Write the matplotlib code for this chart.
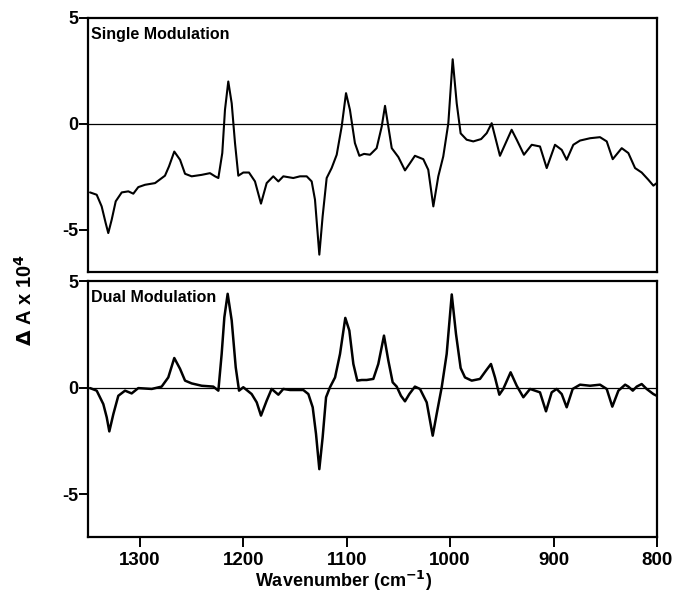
import matplotlib
matplotlib.use("Agg")
import matplotlib.pyplot as plt

plt.rcParams['font.family'] = ['Liberation Sans', 'DejaVu Sans']
plt.rcParams['font.weight'] = 'bold'
plt.rcParams['axes.unicode_minus'] = False

# Single modulation spectrum (wavenumber cm-1, dA x 1e4)
single_x = [1348, 1341.6, 1336.8, 1332.9, 1330.4, 1327.1, 1323.2, 1317.4, 1311, 1306.2, 1301.4,
            1294.9, 1285.2, 1275.6, 1271.7, 1266.6, 1261, 1256.2, 1249.8, 1240.1, 1232.1, 1227.2,
            1224, 1220.2, 1217.6, 1214.4, 1211.1, 1207.9, 1204.7, 1199.9, 1194.4, 1188.6, 1182.8,
            1177.3, 1170.9, 1166, 1161.2, 1151.6, 1145.1, 1138.6, 1133.8, 1130.6, 1126.4, 1123.2,
            1119.3, 1114.5, 1109.6, 1104.8, 1100.6, 1096.8, 1092, 1087.7, 1083.2, 1077.4, 1071,
            1066.1, 1062.9, 1059.7, 1056.4, 1050, 1043.6, 1038.8, 1034, 1025.9, 1021.1, 1016.2,
            1011.4, 1006.6, 1001.7, 997.5, 993.6, 989.8, 984, 977.6, 970, 964.6, 959.8, 951.8,
            940.5, 935.6, 928.6, 921.1, 913.1, 906.6, 898.6, 892.1, 887.3, 880.9, 874.4, 864.7,
            855.1, 848.6, 842.8, 834.1, 827.7, 821.2, 814.8, 808.4, 803.5, 800.3]
single_y = [-3.24, -3.35, -3.9, -4.69, -5.16, -4.53, -3.66, -3.24, -3.19, -3.3, -2.99,
            -2.88, -2.8, -2.45, -2.01, -1.31, -1.7, -2.36, -2.48, -2.41, -2.33, -2.48,
            -2.56, -1.38, 0.66, 2.0, 0.97, -0.91, -2.45, -2.3, -2.3, -2.72, -3.77,
            -2.8, -2.48, -2.72, -2.48, -2.56, -2.48, -2.48, -2.72, -3.58, -6.18, -4.37,
            -2.56, -2.09, -1.46, -0.13, 1.45, 0.66, -0.91, -1.51, -1.42, -1.46, -1.15,
            -0.13, 0.85, -0.13, -1.15, -1.57, -2.2, -1.86, -1.51, -1.67, -2.17, -3.9,
            -2.48, -1.54, 0.03, 3.05, 0.97, -0.45, -0.75, -0.83, -0.72, -0.44, 0.03, -1.51,
            -0.28, -0.75, -1.46, -0.99, -1.07, -2.09, -0.99, -1.23, -1.7, -0.99, -0.79, -0.68,
            -0.63, -0.83, -1.67, -1.15, -1.38, -2.09, -2.3, -2.64, -2.92, -2.8]

# Dual modulation spectrum
dual_x = [1348, 1341.6, 1335.2, 1331.9, 1329.4, 1325.5, 1320.7, 1314.2, 1307.8, 1301.4, 1288.4,
          1278.8, 1272.4, 1266.6, 1261, 1256.2, 1249.8, 1240.1, 1228.9, 1224, 1220.8, 1218.2,
          1215, 1211.1, 1207.2, 1204, 1199.9, 1191.8, 1186.9, 1182.8, 1177.3, 1172.5, 1166,
          1161.2, 1154.7, 1141.9, 1137, 1132.8, 1129.6, 1126.4, 1123.2, 1119.9, 1116.1, 1111.2,
          1106.4, 1101.3, 1097.4, 1093.5, 1089.7, 1085.4, 1080.6, 1074.2, 1069.4, 1063.9,
          1059.7, 1055.5, 1051.6, 1047.5, 1043.6, 1039.4, 1034, 1029.1, 1022.6, 1016.8, 1013,
          1008.1, 1003.3, 998.4, 994.3, 989.8, 985.6, 979.1, 971.1, 965.3, 960.5, 956.6, 952.4,
          948.6, 941.5, 935.6, 929.2, 922.7, 913.1, 907.3, 901.8, 897, 892.1, 887.3, 881.5,
          874.4, 864.7, 855.1, 848.6, 843.2, 837.3, 830.8, 827.7, 823.4, 819.6, 814.8, 810,
          803.5, 800.3]
dual_y = [-0.02, -0.14, -0.77, -1.39, -2.05, -1.24, -0.38, -0.14, -0.27, -0.02, -0.06,
          0.05, 0.48, 1.39, 0.88, 0.33, 0.2, 0.09, 0.05, -0.14, 1.58, 3.3,
          4.4, 3.15, 0.95, -0.14, 0.02, -0.3, -0.69, -1.31, -0.61, -0.06, -0.33,
          -0.06, -0.11, -0.11, -0.3, -0.92, -2.17, -3.82, -2.33, -0.45, 0.02, 0.48,
          1.58, 3.27, 2.68, 1.11, 0.33, 0.36, 0.36, 0.41, 1.11, 2.44,
          1.27, 0.25, 0.05, -0.38, -0.64, -0.3, 0.05, -0.06, -0.69, -2.25, -1.24,
          0.02, 1.58, 4.37, 2.52, 0.92, 0.48, 0.33, 0.41, 0.8, 1.11, 0.48, -0.33,
          -0.06, 0.72, 0.09, -0.45, -0.06, -0.22, -1.11, -0.22, -0.06, -0.3, -0.92, -0.06,
          0.14, 0.09, 0.14, -0.06, -0.89, -0.14, 0.14, 0.05, -0.14, 0.05, 0.17, -0.06,
          -0.3, -0.38]

yticks = [5, 0, -5]
xticks = [1300, 1200, 1100, 1000, 900, 800]

fig = plt.figure(figsize=(6.73, 5.96), dpi=100)
L, W = 88 / 673, (657 - 88) / 673
ax1 = fig.add_axes([L, 1 - 272 / 596, W, (272 - 18) / 596])
ax2 = fig.add_axes([L, 1 - 537 / 596, W, (537 - 281) / 596])

for ax, xs, ys, title, lw in [(ax1, single_x, single_y, 'Single Modulation', 1.5),
                              (ax2, dual_x, dual_y, 'Dual Modulation', 1.8)]:
    ax.axhline(0, color='black', lw=0.9, zorder=1)
    ax.plot(xs, ys, color='black', lw=lw, solid_joinstyle='round',
            solid_capstyle='round', zorder=2)
    ax.set_xlim(1350, 800)
    ax.set_ylim(-7, 5)
    ax.set_yticks(yticks)
    ax.set_yticklabels([str(t) for t in yticks])
    for s in ax.spines.values():
        s.set_linewidth(1.6)
    ax.tick_params(axis='y', direction='out', length=6.5, width=1.4, pad=0.5, labelsize=13)
    ax.text(0.006, 0.965, title, transform=ax.transAxes, ha='left', va='top',
            fontsize=11.5, fontweight='bold')

ax1.set_xticks([])
ax2.set_xticks(xticks)
ax2.set_xticklabels([str(t) for t in xticks])
ax2.tick_params(axis='x', direction='out', length=7, width=1.4, pad=4, labelsize=13.5)
ax2.set_xlabel('Wavenumber (cm$^{\\mathbf{-1}}$)', fontsize=13, fontweight='bold')
ax2.xaxis.label.set_va('center')
ax2.xaxis.set_label_coords((344 - 88) / 569, -(581 - 537) / 256)

fig.text(25 / 673, 1 - 300 / 596, r'$\Delta$ A x 10$^{\mathbf{4}}$', rotation=90,
         ha='center', va='center', fontsize=14.5, fontweight='bold')

fig.savefig('out.png', dpi=100)
